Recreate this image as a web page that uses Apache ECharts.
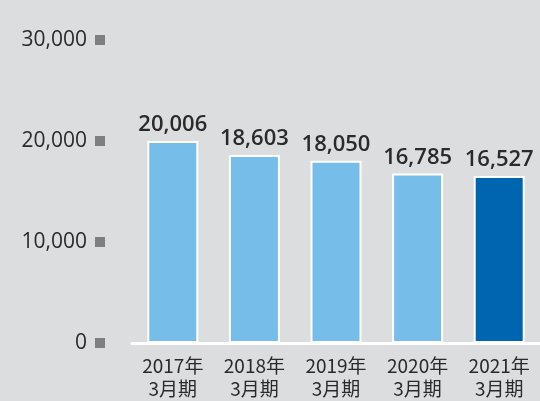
<!DOCTYPE html>
<html>
<head>
<meta charset="utf-8">
<script src="https://cdn.jsdelivr.net/npm/echarts@6/dist/echarts.min.js"></script>
<style>
  html, body { margin: 0; padding: 0; background: #dcdddf; }
  #chart { width: 540px; height: 401px; }
</style>
</head>
<body>
<div id="chart"></div>
<script>
// 期別と従業員数
const categories = ['2017年\n3月期', '2018年\n3月期', '2019年\n3月期', '2020年\n3月期', '2021年\n3月期']
const values = [20006, 18603, 18050, 16785, 16527]
const yTicks = [0, 10000, 20000, 30000]

const lightBlue = '#76bde9'
const darkBlue = '#0065b1'
const textColor = '#2a2a2a'

const fmt = v => v.toLocaleString('en-US')

const chart = echarts.init(document.getElementById('chart'))

const option = {
  backgroundColor: '#dcdddf',
  animation: false,
  grid: {
    left: 132,
    right: -4,
    top: 40,
    bottom: 58
  },
  xAxis: {
    type: 'category',
    data: categories,
    axisLine: { lineStyle: { color: '#ffffff', width: 3 } },
    axisTick: { show: false },
    axisLabel: {
      color: textColor,
      fontFamily: 'Noto Sans CJK JP',
      fontSize: 19,
      lineHeight: 23,
      margin: 11,
      interval: 0
    }
  },
  yAxis: {
    type: 'value',
    min: yTicks[0],
    max: yTicks[yTicks.length - 1],
    interval: 10000,
    splitLine: { show: false },
    axisLine: { show: false },
    axisTick: { show: false },
    axisLabel: {
      margin: 27,
      formatter: v => '{a|' + fmt(v) + '}{s| }',
      rich: {
        a: {
          color: textColor,
          fontFamily: 'Open Sans',
          fontSize: 21,
          padding: [0, 8, 0, 0]
        },
        s: {
          width: 10,
          height: 10,
          backgroundColor: '#7f7f7f'
        }
      }
    }
  },
  series: [
    {
      type: 'bar',
      barWidth: 51,
      data: values.map((v, i) => ({
        value: v,
        itemStyle: { color: i === values.length - 1 ? darkBlue : lightBlue }
      })),
      itemStyle: {
        borderColor: '#ffffff',
        borderWidth: 2
      },
      label: {
        show: true,
        position: 'top',
        distance: 5,
        color: textColor,
        fontFamily: 'Open Sans',
        fontWeight: 600,
        fontSize: 22,
        formatter: p => fmt(p.value)
      }
    }
  ]
}

chart.setOption(option)
</script>
</body>
</html>
